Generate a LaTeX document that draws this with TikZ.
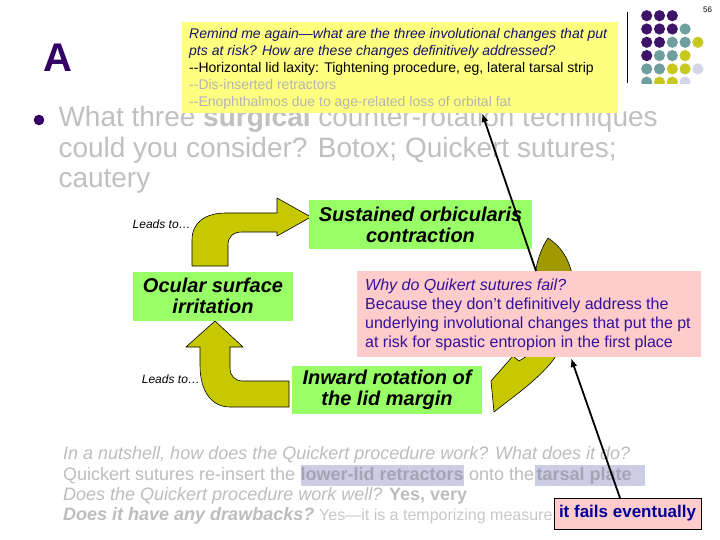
\documentclass[tikz,border=0pt]{standalone}
\usepackage{fontspec}
\setmainfont{Liberation Sans}
\usetikzlibrary{arrows.meta}
\definecolor{apurple}{HTML}{330066}
\definecolor{dpurple}{HTML}{3D1468}
\definecolor{dteal}{HTML}{6E9E9E}
\definecolor{dyellow}{HTML}{C8C81E}
\definecolor{dlav}{HTML}{D4D4EA}
\definecolor{remindbg}{HTML}{FFFF80}
\definecolor{navy}{HTML}{141466}
\definecolor{softgray}{HTML}{B4B4B4}
\definecolor{headgray}{HTML}{C0C0C0}
\definecolor{botgray}{HTML}{BDBDBD}
\definecolor{lightgraytwo}{HTML}{C8C8C8}
\definecolor{boxgreen}{HTML}{99FF66}
\definecolor{boxpink}{HTML}{FFCCCC}
\definecolor{whytext}{HTML}{331199}
\definecolor{failtext}{HTML}{000099}
\definecolor{olivefill}{HTML}{C8C800}
\definecolor{olivedark}{HTML}{A09A00}
\definecolor{hilite}{HTML}{CCCCE4}
\definecolor{hitext}{HTML}{A4A4B4}
\begin{document}
\begin{tikzpicture}[x=1pt,y=-1pt,
  txt/.style={inner sep=0pt, anchor=base west},
  remindline/.style={txt, font=\fontsize{14}{16}\selectfont},
  headline/.style={txt, text=headgray, font=\fontsize{28}{32}\selectfont},
  botline/.style={txt, text=botgray, font=\fontsize{18}{21}\selectfont},
  whyline/.style={txt, text=whytext, font=\fontsize{16}{19}\selectfont},
  leads/.style={txt, font=\fontsize{12}{14}\selectfont\itshape},
  greenbox/.style={fill=boxgreen, inner sep=0pt, align=center, font=\fontsize{20}{21}\selectfont\bfseries\itshape},
  hibox/.style={txt, fill=hilite, text=hitext, font=\fontsize{18}{21}\selectfont\bfseries, text height=15pt, text depth=6pt},
  olive/.style={fill=olivefill, draw=black, line width=0.6pt, line join=round},
  pointer/.style={draw=black, line width=1.8pt, -{Latex[length=9pt,width=7pt]}},
]
\useasboundingbox (0,0) rectangle (720,540);
\fill[white] (0,0) rectangle (720,540);

% slide number, rule and dot grid
\node[txt, font=\fontsize{8}{9}\selectfont] (pagenum) at (703,12.5) {56};
\draw[line width=1pt] (627.5,12.5) -- (627.5,83.5);
\begin{scope}
\clip (638,6) rectangle (708,84);
\foreach \c/\r/\col in {0/0/dpurple,1/0/dpurple,2/0/dpurple,
  0/1/dpurple,1/1/dpurple,2/1/dpurple,3/1/dteal,
  0/2/dpurple,1/2/dpurple,2/2/dteal,3/2/dteal,4/2/dyellow,
  0/3/dpurple,1/3/dteal,2/3/dteal,3/3/dyellow,
  0/4/dteal,1/4/dteal,2/4/dyellow,3/4/dyellow,4/4/dlav,
  0/5/dteal,1/5/dyellow,2/5/dyellow,3/5/dlav}
  \fill[\col] (646.7+12.8*\c, 15.7+13.3*\r) circle (5.6pt);
\end{scope}

% title
\node[txt, text=apurple, font=\fontsize{40}{44}\selectfont\bfseries] (title) at (43,71.7) {A};

% bullet and heading
\fill[apurple] (39,120) circle (5.3pt);
\node[headline] (h1) at (58.3,126.5) {What three \textbf{surgical} counter-rotation techniques};
\node[headline] (h2) at (58.3,157.5) {could you consider? Botox; Quickert sutures;};
\node[headline] (h3) at (58.3,188) {cautery};

% reminder box
\node[fill=remindbg, inner sep=0pt, anchor=north west, minimum width=436pt, minimum height=91pt] (remind) at (182,22) {};
\node[remindline, text=navy, font=\fontsize{14}{16}\selectfont\itshape] (r1) at (189,39) {Remind me again—what are the three involutional changes that put};
\node[remindline, text=navy, font=\fontsize{14}{16}\selectfont\itshape] (r2) at (189,55.8) {pts at risk? How are these changes definitively addressed?};
\node[remindline, text=black] (r3) at (189,72.6) {-{}-Horizontal lid laxity: Tightening procedure, eg, lateral tarsal strip};
\node[remindline, text=softgray] (r4) at (189,89.4) {-{}-Dis-inserted retractors};
\node[remindline, text=softgray] (r5) at (189,106.2) {-{}-Enophthalmos due to age-related loss of orbital fat};

% block arrows
\draw[olive] (192,266) -- (192,240) .. controls (192,222) and (206,213) .. (226,213)
  -- (277,213) -- (277,198) -- (311,217) -- (277,236) -- (277,232) -- (242,232)
  .. controls (233,232) and (228,237) .. (228,245) -- (228,266) -- cycle;
\draw[olive] (289,407) -- (230,407) .. controls (212,407) and (200,392) .. (200,365)
  -- (200,347) -- (186,347) -- (215,321) -- (243,347) -- (230,347) -- (230,368)
  .. controls (230,376) and (235,381) .. (243,381) -- (289,381) -- cycle;
\draw[olive, fill=olivedark] (548,238) .. controls (562,247) and (573,263) .. (574,290)
  -- (534,290) .. controls (534,268) and (540,250) .. (548,238) -- cycle;
\draw[olive] (560,335) -- (556,356) .. controls (542,377) and (514,396) .. (494,412)
  -- (491,381) -- (513,356) -- (519,361) -- (527,356) -- (528,335) -- cycle;

\node[leads] (lead1) at (132.5,228.5) {Leads to…};
\node[leads] (lead2) at (141.7,383) {Leads to…};

% green boxes
\node[greenbox, minimum width=223pt, minimum height=49pt] (sustained) at (420.5,224.5) {Sustained orbicularis\\contraction};
\node[greenbox, minimum width=160pt, minimum height=48.5pt] (ocular) at (213,296.3) {Ocular surface\\irritation};
\node[greenbox, minimum width=190pt, minimum height=48pt] (inward) at (387,390) {Inward rotation of\\the lid margin};

% why box
\node[fill=boxpink, inner sep=0pt, anchor=north west, minimum width=344pt, minimum height=86pt] (why) at (357,271) {};
\node[whyline, font=\fontsize{16}{19}\selectfont\itshape] (w1) at (365,290) {Why do Quikert sutures fail?};
\node[whyline] (w2) at (365,309) {Because they don't definitively address the};
\node[whyline] (w3) at (365,328) {underlying involutional changes that put the pt};
\node[whyline] (w4) at (365,347.5) {at risk for spastic entropion in the first place};

% bottom text
\node[botline, font=\fontsize{18}{21}\selectfont\itshape] (b1) at (63,459.5) {In a nutshell, how does the Quickert procedure work? What does it do?};
\node[botline] (b2a) at (63,480) {Quickert sutures re-insert the\kern5pt};
\node[hibox] (b2b) at (b2a.base east) {lower-lid retractors};
\node[botline, anchor=base west] (b2c) at (b2b.base east) {\kern5pt onto the};
\node[hibox] (b2d) at (b2c.base east) {\kern2pt tarsal plate\kern13pt};
\node[botline] (b3) at (63,500) {\itshape Does the Quickert procedure work well? \upshape\bfseries Yes, very};
\node[botline, font=\fontsize{18}{21}\selectfont\bfseries\itshape] (b4a) at (63,520) {Does it have any drawbacks?};
\node[txt, text=lightgraytwo, font=\fontsize{16}{19}\selectfont] (b4b) at (b4a.base east) {\kern4.5pt Yes—it is a temporizing measure;};
\node[draw=black, line width=0.8pt, fill=boxpink, text=failtext, font=\fontsize{17}{20}\selectfont\bfseries, minimum width=147pt, minimum height=31pt, inner sep=0pt] (fails) at (627.5,513.5) {it fails eventually};

% pointers
\coordinate (p1tail) at (536,271);
\coordinate (p1tip) at (482,113);
\coordinate (p2tail) at (620,498);
\coordinate (p2tip) at (571,358);
\draw[pointer] (p1tail) -- (p1tip);
\draw[pointer] (p2tail) -- (p2tip);
\end{tikzpicture}
\end{document}
